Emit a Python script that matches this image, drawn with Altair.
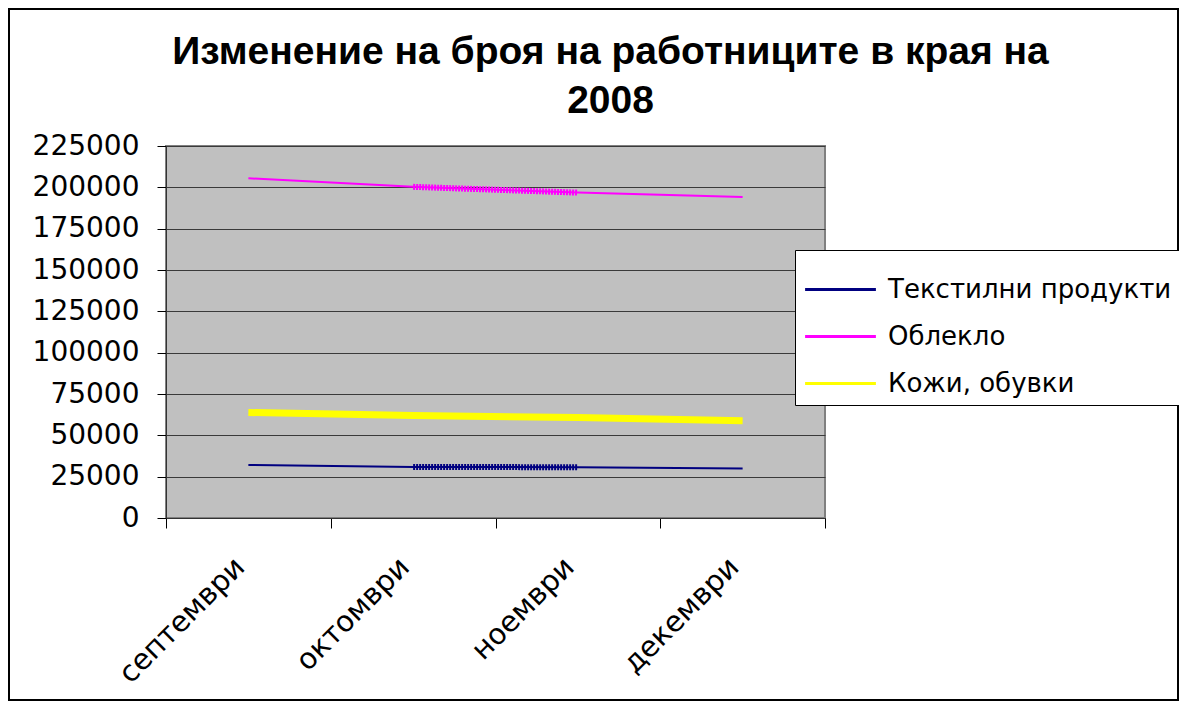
import altair as alt
import pandas as pd

months = ["септември", "октомври", "ноември", "декември"]
series_names = ["Текстилни продукти", "Облекло", "Кожи, обувки"]
textiles = [32100, 30900, 30700, 30000]
clothing = [205500, 200300, 196800, 194200]
leather = [63800, 62000, 60800, 58800]
y_ticks = [0, 25000, 50000, 75000, 100000, 125000, 150000, 175000, 200000, 225000]
colors = ["#000080", "#FF00FF", "#FFFF00"]

rows = []
for name, vals in zip(series_names, [textiles, clothing, leather]):
    for m, v in zip(months, vals):
        rows.append({"month": m, "series": name, "value": v})
df = pd.DataFrame(rows)

W, H = 659, 372
PL, PT = 158, 138
TOTAL_W, TOTAL_H = 1171, 693
FONT = "DejaVu Sans"
THICK = "Кожи, обувки"

legend = alt.Legend(
    title=None, orient="none", legendX=629, legendY=104,
    symbolType="M-1.18,0H1.18", symbolSize=3600, symbolOffset=6,
    symbolStrokeWidth=3,
    labelFontSize=26, labelFont=FONT, labelColor="black", labelLimit=0,
    fillColor="white", strokeColor="black", padding=8, rowPadding=2,
    labelOffset=16,
)

x_enc = alt.X(
    "month:N",
    sort=months,
    bandPosition=0.5,
    scale=alt.Scale(type="band", paddingInner=0, paddingOuter=0),
    axis=alt.Axis(
        title=None, labelAngle=-45, labelAlign="right", labelBaseline="middle",
        labelFontSize=29, labelFont=FONT, labelColor="black",
        labelPadding=34, labelOffset=-9, tickBand="extent", tickSize=10,
        tickColor="black", domainColor="#333333", grid=False,
    ),
)
y_enc = alt.Y(
    "value:Q",
    scale=alt.Scale(domain=[0, 225000], nice=False),
    axis=alt.Axis(
        title=None, values=y_ticks, format="d", labelFontSize=28,
        labelFont=FONT, labelColor="black", labelPadding=18,
        tickSize=9, tickColor="black", domainColor="#333333",
        gridColor="#3a3a3a", gridWidth=1.2,
    ),
)
color_enc = alt.Color(
    "series:N",
    sort=series_names,
    scale=alt.Scale(domain=series_names, range=colors),
    legend=legend,
)

base = alt.Chart(df)

frame = base.mark_rect(fill="white", fillOpacity=0, stroke="black", strokeWidth=1.5).encode(
    x=alt.value(-PL + 1), x2=alt.value(TOTAL_W - PL - 1),
    y=alt.value(-PT + 1), y2=alt.value(TOTAL_H - PT - 1),
)

lines = base.transform_calculate(
    lw=f"datum.series === '{THICK}' ? 7 : 2"
).mark_line(clip=False).encode(
    x=x_enc, y=y_enc, color=color_enc,
    strokeWidth=alt.StrokeWidth("lw:Q", scale=None),
    detail="series:N",
)

hl = base.transform_filter(
    alt.FieldOneOfPredicate(field="month", oneOf=["октомври", "ноември"])
).transform_filter(
    alt.FieldOneOfPredicate(field="series", oneOf=["Текстилни продукти", "Облекло"])
).mark_line(strokeWidth=6, strokeDash=[2, 1]).encode(
    x=alt.X("month:N", sort=months, bandPosition=0.5),
    y="value:Q",
    color=alt.Color("series:N", sort=series_names),
    detail="series:N",
)

chart = alt.layer(frame, hl, lines).properties(
    width=W, height=H,
    title=alt.TitleParams(
        text=["Изменение на броя на работниците в края на", "2008"],
        fontSize=39, font="Liberation Sans", fontWeight="bold", color="black",
        anchor="middle", frame="group", dx=115, dy=156, baseline="alphabetic",
        lineHeight=49, offset=12,
    ),
).configure(
    autosize=alt.AutoSizeParams(type="none"),
    padding={"left": PL, "top": PT, "right": TOTAL_W - PL - W, "bottom": TOTAL_H - PT - H},
    background="white",
).configure_view(
    stroke="#808080", strokeWidth=2, fill="#C0C0C0",
)

chart.save("out.html", embed_options={"renderer": "svg", "actions": False})
